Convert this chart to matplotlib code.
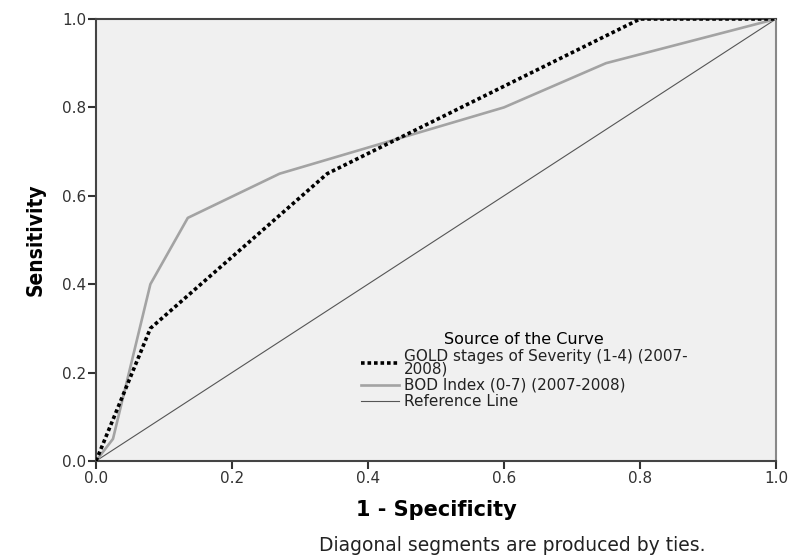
import matplotlib
matplotlib.use('Agg')
import matplotlib.pyplot as plt
import numpy as np

# ROC curves
gold_fpr = [0.0, 0.08, 0.34, 0.80, 1.0]
gold_tpr = [0.0, 0.30, 0.65, 1.00, 1.0]
bod_fpr = [0.0, 0.025, 0.08, 0.135, 0.27, 0.60, 0.75, 1.0]
bod_tpr = [0.0, 0.05, 0.40, 0.55, 0.65, 0.80, 0.90, 1.0]
ref_xy = [0.0, 1.0]

tick_vals = [0.0, 0.2, 0.4, 0.6, 0.8, 1.0]
tick_labels = ['0.0', '0.2', '0.4', '0.6', '0.8', '1.0']

plt.rcParams['font.family'] = ['DejaVu Sans']

fig = plt.figure(figsize=(7.92, 5.55), dpi=100)
ax = fig.add_axes([0.1212, 0.1694, 0.8586, 0.7964])
ax.set_facecolor('#f0f0f0')

ax.plot(gold_fpr, gold_tpr, color='black', lw=2.6, linestyle=(0, (1, 0.8)),
        label='GOLD stages of Severity (1-4) (2007-\n2008)', zorder=4)
ax.plot(bod_fpr, bod_tpr, color='#a3a3a3', lw=1.9,
        label='BOD Index (0-7) (2007-2008)', zorder=3)
ax.plot(ref_xy, ref_xy, color='#555555', lw=0.8, label='Reference Line', zorder=2)

ax.set_xlim(0, 1)
ax.set_ylim(0, 1)
ax.set_xticks(tick_vals)
ax.set_xticklabels(tick_labels)
ax.set_yticks(tick_vals)
ax.set_yticklabels(tick_labels)
ax.tick_params(direction='out', length=6, width=1.5, color='#333333',
               labelsize=11, labelcolor='#333333', pad=1)

for s in ax.spines.values():
    s.set_color('#444444')
    s.set_linewidth(1.5)
ax.spines['right'].set_color('#888888')

ax.set_xlabel('1 - Specificity', fontsize=15, fontweight='bold', labelpad=10)
ax.set_ylabel('Sensitivity', fontsize=15, fontweight='bold',
              fontstretch='condensed', labelpad=12)

leg = ax.legend(loc='upper left', bbox_to_anchor=(0.38, 0.305), frameon=False,
                title='Source of the Curve', fontsize=11, title_fontsize=11.5,
                handlelength=2.5, handletextpad=0.35, labelspacing=0.1,
                borderaxespad=0)
leg._legend_box.align = 'center'
for t in leg.get_texts():
    t.set_color('#222222')
    t.set_linespacing(0.8)

fig.text(0.647, 0.018, 'Diagonal segments are produced by ties.', ha='center',
         va='center', fontsize=13.5, color='#222222')

fig.savefig('out.png', dpi=100)
